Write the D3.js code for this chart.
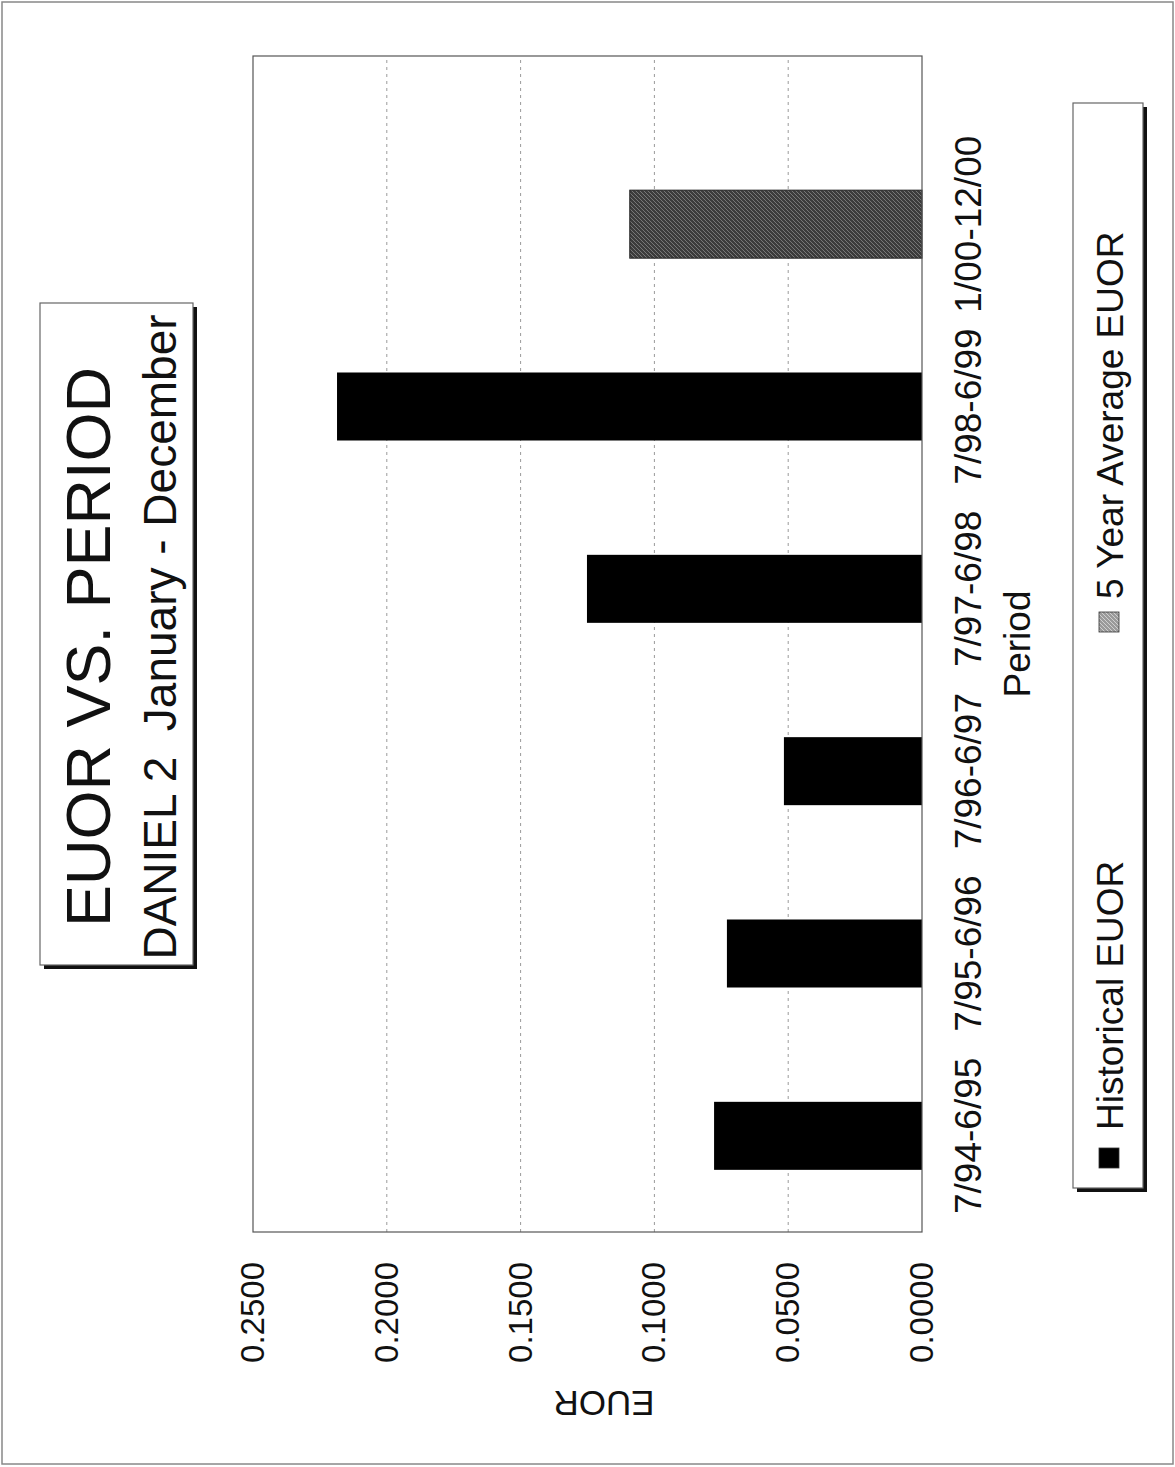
<!DOCTYPE html>
<html><head><meta charset="utf-8">
<script src="https://cdn.jsdelivr.net/npm/d3@7"></script>
<style>body{margin:0;background:#fff}svg{display:block}text{font-family:"Liberation Sans",Arial,sans-serif;fill:#111}</style>
</head><body>
<script>
const categories = ["7/94-6/95","7/95-6/96","7/96-6/97","7/97-6/98","7/98-6/99","1/00-12/00"];
const historical = [0.0777, 0.0729, 0.0516, 0.1252, 0.2186, null];
const average5yr = [null, null, null, null, null, 0.1092];
const valueTicks = [0, 0.05, 0.10, 0.15, 0.20, 0.25];
const seriesNames = ["Historical EUOR", "5 Year Average EUOR"];

const PW = 1175, PH = 1467;
const svg = d3.select("body").append("svg").attr("width", PW).attr("height", PH);
svg.append("rect").attr("x",2).attr("y",2).attr("width",PW-4).attr("height",PH-5)
  .attr("fill","#fff").attr("stroke","#888").attr("stroke-width",1.5);

// texture for the average bar
const defs = svg.append("defs");
const pat = defs.append("pattern").attr("id","tex").attr("patternUnits","userSpaceOnUse").attr("width",4).attr("height",4);
pat.append("rect").attr("width",4).attr("height",4).attr("fill","#3c3c3c");
pat.append("path").attr("d","M0,4 L4,0").attr("stroke","#777").attr("stroke-width",1);
const pat2 = defs.append("pattern").attr("id","tex2").attr("patternUnits","userSpaceOnUse").attr("width",4).attr("height",4);
pat2.append("rect").attr("width",4).attr("height",4).attr("fill","#9a9a9a");
pat2.append("path").attr("d","M0,4 L4,0").attr("stroke","#cfcfcf").attr("stroke-width",1);

// chart is drawn unrotated (1467 wide x 1175 tall) and turned 90deg counter-clockwise
const g = svg.append("g").attr("transform", `translate(0,${PH}) rotate(-90)`);

const frame = {x0:235, x1:1411, y0:253, y1:922};
const x = d3.scaleBand().domain(categories).range([240,1334]).paddingInner(0.627).paddingOuter(0.3135);
const y = d3.scaleLinear().domain([0,0.25]).range([frame.y1, frame.y0]);

// grid
g.selectAll("line.grid").data(valueTicks.slice(1,-1)).join("line")
  .attr("x1",frame.x0).attr("x2",frame.x1).attr("y1",d=>y(d)).attr("y2",d=>y(d))
  .attr("stroke","#9a9a9a").attr("stroke-width",1).attr("stroke-dasharray","3,4");

// bars
g.selectAll("rect.h").data(categories.map((c,i)=>({c,v:historical[i]})).filter(d=>d.v!=null)).join("rect")
  .attr("x",d=>x(d.c)).attr("width",x.bandwidth()).attr("y",d=>y(d.v)).attr("height",d=>y(0)-y(d.v))
  .attr("fill","#000");
g.selectAll("rect.a").data(categories.map((c,i)=>({c,v:average5yr[i]})).filter(d=>d.v!=null)).join("rect")
  .attr("x",d=>x(d.c)).attr("width",x.bandwidth()).attr("y",d=>y(d.v)).attr("height",d=>y(0)-y(d.v))
  .attr("fill","url(#tex)").attr("stroke","#222").attr("stroke-width",1);

// frame
g.append("rect").attr("x",frame.x0).attr("y",frame.y0).attr("width",frame.x1-frame.x0).attr("height",frame.y1-frame.y0)
  .attr("fill","none").attr("stroke","#555").attr("stroke-width",1.2);

// value axis labels
const ya = d3.axisLeft(y).tickValues(valueTicks).tickFormat(d3.format(".4f")).tickSize(0).tickPadding(0);
const yg = g.append("g").attr("transform","translate(205,0)").call(ya);
yg.select(".domain").remove();
yg.selectAll("text").attr("font-size",33).attr("fill","#111").style("font-family",'"Liberation Sans",Arial,sans-serif');

// category axis labels
const xa = d3.axisBottom(x).tickSize(0).tickPadding(0);
const xg = g.append("g").attr("transform",`translate(0,${frame.y1})`).call(xa);
xg.select(".domain").remove();
xg.selectAll("text").attr("font-size",37).attr("dy",null).attr("y",59).attr("fill","#111").style("font-family",'"Liberation Sans",Arial,sans-serif');

// axis titles
g.append("text").attr("x",823).attr("y",1030).attr("text-anchor","middle").attr("font-size",37).text("Period");
g.append("text").attr("transform","translate(64,604) rotate(-90)").attr("text-anchor","middle")
  .attr("dominant-baseline","central").attr("font-size",35).text("EUOR");

// title box
const tb = {x0:502, x1:1164, y0:40, y1:193};
g.append("rect").attr("x",tb.x0-4).attr("y",tb.y0+4).attr("width",tb.x1-tb.x0).attr("height",tb.y1-tb.y0).attr("fill","#111");
g.append("rect").attr("x",tb.x0).attr("y",tb.y0).attr("width",tb.x1-tb.x0).attr("height",tb.y1-tb.y0)
  .attr("fill","#fff").attr("stroke","#666").attr("stroke-width",1.2);
g.append("text").attr("x",820).attr("y",110).attr("text-anchor","middle").attr("font-size",63).text("EUOR VS. PERIOD");
g.append("text").attr("x",830).attr("y",176).attr("text-anchor","middle").attr("font-size",46)
  .attr("xml:space","preserve").style("white-space","pre").text("DANIEL 2  January - December");

// legend box
const lb = {x0:279, x1:1364, y0:1073, y1:1143};
g.append("rect").attr("x",lb.x0-4).attr("y",lb.y0+4).attr("width",lb.x1-lb.x0).attr("height",lb.y1-lb.y0).attr("fill","#111");
g.append("rect").attr("x",lb.x0).attr("y",lb.y0).attr("width",lb.x1-lb.x0).attr("height",lb.y1-lb.y0)
  .attr("fill","#fff").attr("stroke","#666").attr("stroke-width",1.2);
const legendItems = [{name:seriesNames[0], fill:"#000", sx:299, tx:337},{name:seriesNames[1], fill:"url(#tex2)", sx:835, tx:868}];
legendItems.forEach(d=>{
  g.append("rect").attr("x",d.sx).attr("y",1099).attr("width",20).attr("height",20).attr("fill",d.fill).attr("stroke","#333").attr("stroke-width",0.8);
  g.append("text").attr("x",d.tx).attr("y",1123).attr("font-size",37).text(d.name);
});
</script>
</body></html>
